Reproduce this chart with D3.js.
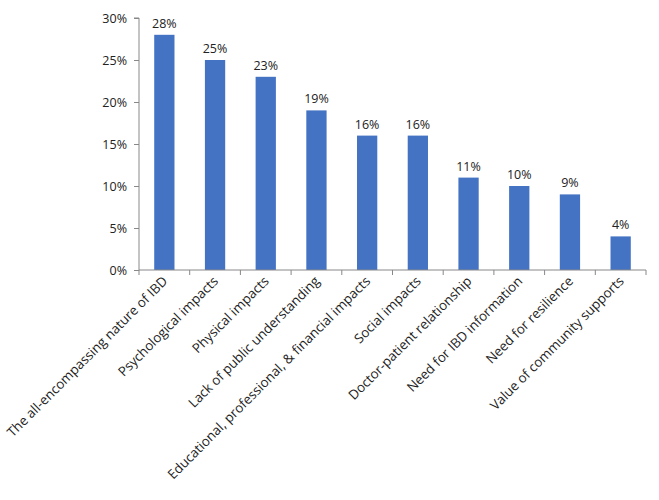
<!DOCTYPE html>
<html><head><meta charset="utf-8">
<script src="https://cdn.jsdelivr.net/npm/d3@7/dist/d3.min.js"></script>
<style>body{margin:0;background:#fff;} text{font-family:"Open Sans",sans-serif;fill:#222;}</style>
</head><body>
<svg id="c" width="659" height="500"></svg>
<script>
const categories = ["The all-encompassing nature of IBD","Psychological impacts","Physical impacts","Lack of public understanding","Educational, professional, & financial impacts","Social impacts","Doctor-patient relationship","Need for IBD information","Need for resilience","Value of community supports"];
const values = [28,25,23,19,16,16,11,10,9,4];
const yTicks = [0,5,10,15,20,25,30];

const svg = d3.select("#c");
const mLeft = 139, mRight = 646, mTop = 18, mBottom = 270;
const x = d3.scaleBand().domain(categories).range([mLeft, mRight]).paddingInner(0.6).paddingOuter(0.3);
const y = d3.scaleLinear().domain([0,30]).range([mBottom, mTop]);
const axisColor = "#888";

svg.selectAll("rect.bar").data(values).enter().append("rect")
  .attr("x",(d,i)=>x(categories[i])).attr("width",x.bandwidth())
  .attr("y",d=>y(d)).attr("height",d=>y(0)-y(d)).attr("fill","#4473c3");

svg.selectAll("text.val").data(values).enter().append("text")
  .attr("x",(d,i)=>x(categories[i])+x.bandwidth()/2).attr("y",d=>y(d)-7)
  .attr("text-anchor","middle").attr("font-size",12.5).text(d=>d+"%");

// y axis
const ya = svg.append("g").attr("transform",`translate(${mLeft},0)`)
  .call(d3.axisLeft(y).tickValues(yTicks).tickFormat(d=>d+"%").tickSize(5).tickPadding(7));
ya.select(".domain").attr("stroke",axisColor).attr("d",`M-5,${y(30)}H0V${y(0)}`);
ya.selectAll(".tick line").attr("stroke",axisColor);
ya.selectAll(".tick text").attr("font-size",12.5).attr("font-family","Open Sans").attr("fill","#222");

// x axis
const xg = svg.append("g");
xg.append("line").attr("x1",mLeft).attr("x2",mRight).attr("y1",mBottom).attr("y2",mBottom).attr("stroke",axisColor);
const step = x.step();
const bounds = d3.range(categories.length+1).map(i=>mLeft+i*step);
xg.selectAll("line.t").data(bounds).enter().append("line")
  .attr("x1",d=>d).attr("x2",d=>d).attr("y1",mBottom).attr("y2",mBottom+5).attr("stroke",axisColor);
xg.selectAll("text.lab").data(categories).enter().append("text")
  .attr("transform",d=>`translate(${x(d)+x.bandwidth()/2+4},${mBottom+12}) rotate(-45)`)
  .attr("text-anchor","end").attr("font-size",13.3).text(d=>d);
</script>
</body></html>
